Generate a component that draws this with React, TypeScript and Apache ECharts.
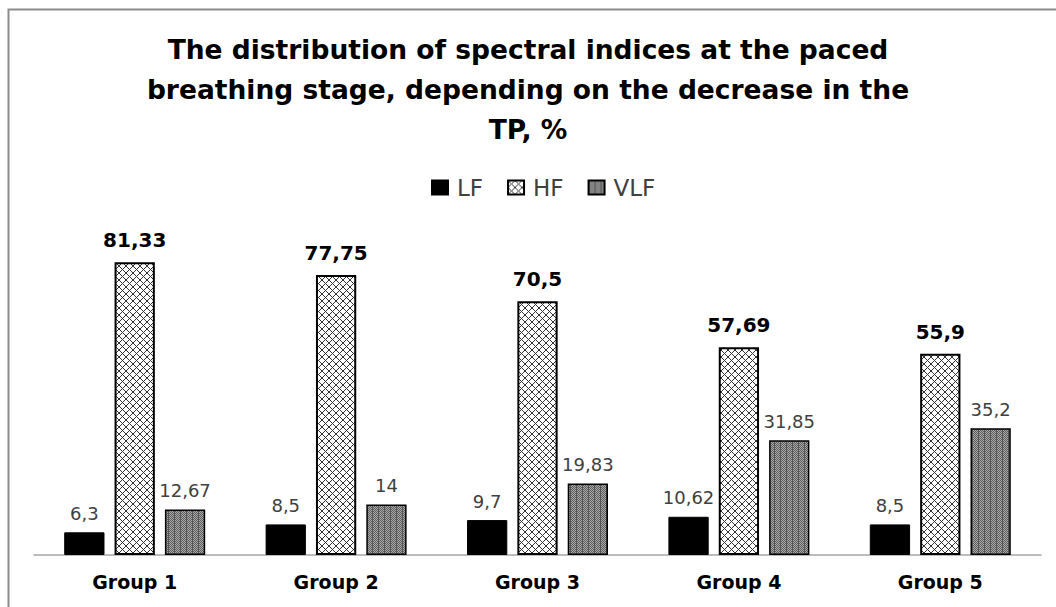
import React, { useEffect, useRef } from "react";
import * as echarts from "echarts";

const categories = ["Group 1", "Group 2", "Group 3", "Group 4", "Group 5"];
const lfValues = [6.3, 8.5, 9.7, 10.62, 8.5];
const hfValues = [81.33, 77.75, 70.5, 57.69, 55.9];
const vlfValues = [12.67, 14, 19.83, 31.85, 35.2];
const titleText =
  "The distribution of spectral indices at the paced\nbreathing stage, depending on the decrease in the\nTP, %";

function makeCrossHatch(): string {
  const c = document.createElement("canvas");
  c.width = 7;
  c.height = 7;
  const ctx = c.getContext("2d")!;
  ctx.fillStyle = "#ffffff";
  ctx.fillRect(0, 0, 7, 7);
  ctx.strokeStyle = "#333333";
  ctx.lineWidth = 1;
  ctx.beginPath();
  ctx.moveTo(-1, -1);
  ctx.lineTo(8, 8);
  ctx.moveTo(8, -1);
  ctx.lineTo(-1, 8);
  ctx.stroke();
  return c.toDataURL();
}

function makeDense(): string {
  const c = document.createElement("canvas");
  c.width = 6;
  c.height = 2;
  const ctx = c.getContext("2d")!;
  for (let x = 0; x < 6; x++) {
    for (let y = 0; y < 2; y++) {
      const dark = (x + y) % 2 === 0;
      ctx.fillStyle = x === 0 ? "#555555" : dark ? "#5e5e5e" : "#a8a8a8";
      ctx.fillRect(x, y, 1, 1);
    }
  }
  return c.toDataURL();
}

const fmt = (p: any) => String(p.value).replace(".", ",");

export default function App() {
  const ref = useRef<HTMLDivElement>(null);
  useEffect(() => {
    if (!ref.current) return;
    const chart = echarts.init(ref.current, null, { renderer: "svg" });
    const hatch = { image: makeCrossHatch(), repeat: "repeat" };
    const dense = { image: makeDense(), repeat: "repeat" };
    const font = "'DejaVu Sans', Verdana, sans-serif";
    chart.setOption({
      animation: false,
      backgroundColor: "#ffffff",
      textStyle: { fontFamily: font },
      title: {
        text: titleText,
        left: "center",
        top: 24,
        textStyle: {
          fontFamily: font,
          fontSize: 26.5,
          fontWeight: "bold",
          color: "#000",
          lineHeight: 40,
        },
      },
      legend: {
        top: 171,
        left: 426,
        icon: "rect",
        itemWidth: 16,
        itemHeight: 14,
        itemGap: 24,
        textStyle: { fontFamily: font, fontSize: 23, color: "#404040", padding: [0, 0, 0, 4] },
        data: ["LF", "HF", "VLF"],
      },
      grid: { left: 34, right: 15, top: 231, bottom: 52 },
      xAxis: {
        type: "category",
        data: categories,
        axisLine: { lineStyle: { color: "#a6a6a6", width: 1.5 } },
        axisTick: { show: false },
        axisLabel: {
          fontFamily: font,
          fontSize: 19,
          fontWeight: "bold",
          color: "#000",
          margin: 17,
        },
      },
      yAxis: {
        type: "value",
        min: 0,
        max: 90,
        show: false,
        splitLine: { show: false },
      },
      series: [
        {
          name: "LF",
          type: "bar",
          data: lfValues,
          barGap: "25%",
          barCategoryGap: "30%",
          itemStyle: { color: "#000", borderColor: "#000", borderWidth: 1 },
          label: {
            show: true,
            position: "top",
            distance: 10,
            formatter: fmt,
            fontFamily: font,
            fontSize: 18,
            color: "#404040",
          },
        },
        {
          name: "HF",
          type: "bar",
          data: hfValues,
          itemStyle: { color: hatch, borderColor: "#000", borderWidth: 2 },
          label: {
            show: true,
            position: "top",
            distance: 12,
            formatter: fmt,
            fontFamily: font,
            fontSize: 20,
            fontWeight: "bold",
            color: "#000",
          },
        },
        {
          name: "VLF",
          type: "bar",
          data: vlfValues,
          itemStyle: { color: dense, borderColor: "#000", borderWidth: 1.5 },
          label: {
            show: true,
            position: "top",
            distance: 10,
            formatter: fmt,
            fontFamily: font,
            fontSize: 18,
            color: "#404040",
          },
        },
      ],
      graphic: [
        {
          type: "rect",
          shape: { x: 8.5, y: 9.5, width: 1100, height: 700 },
          style: { fill: "none", stroke: "#8c8c8c", lineWidth: 2 },
          silent: true,
        },
      ],
    });
    return () => chart.dispose();
  }, []);
  return <div ref={ref} style={{ width: 1056, height: 607, position: "absolute", left: 0, top: 0 }} />;
}
